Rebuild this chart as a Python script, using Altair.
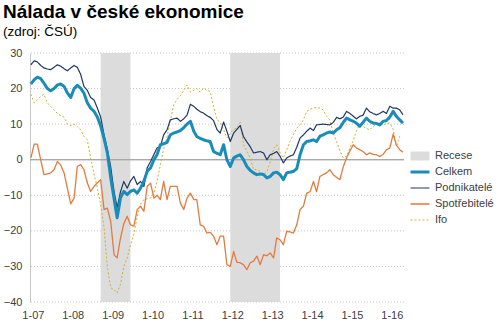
import altair as alt
import pandas as pd

title_text = "Nálada v české ekonomice"
subtitle_text = "(zdroj: ČSÚ)"
series_names = ["Recese", "Celkem", "Podnikatelé", "Spotřebitelé", "Ifo"]
series_colors = ["#dcdcdc", "#1a8cba", "#1f3864", "#e47b3c", "#cdb22c"]
series_widths = [9, 3, 1.2, 1.3, 1]
series_dash = [[1, 0], [1, 0], [1, 0], [1, 0], [2, 2]]
first_month = "2007-01-01"

celkem = [21.3, 22.5, 23.2, 22.8, 21.5, 20.0, 19.4, 20.0, 21.0, 21.3,
          20.6, 18.8, 17.5, 20.0, 20.9, 20.1, 18.7, 16.0, 14.5, 13.6,
          12.0, 9.5, 6.0, 2.0, -5.0, -11.0, -16.3, -10.7, -8.9, -9.8,
          -8.9, -8.5, -9.4, -8.0, -6.0, -3.3, -2.3, 0.0, 1.4, 4.2,
          4.5, 4.9, 7.0, 7.5, 7.8, 8.2, 9.0, 10.0, 10.8, 8.0,
          6.5, 6.0, 5.6, 5.3, 5.1, 2.3, 1.8, 1.4, 4.2, 0.0,
          -1.9, 0.5, 1.0, 1.4, 0.0, -1.9, -3.0, -3.7, -4.2, -4.0,
          -4.2, -5.1, -4.7, -3.7, -3.5, -4.2, -5.6, -3.7, -3.5, -3.3,
          -2.5, 1.4, 4.2, 5.1, 5.3, 5.6, 5.1, 6.6, 7.0, 7.5,
          7.8, 7.5, 8.4, 9.0, 10.5, 11.7, 11.2, 10.8, 10.3, 9.4,
          10.5, 11.7, 10.8, 10.3, 10.2, 9.8, 10.8, 11.0, 12.0, 13.6,
          12.2, 11.2, 10.3]

podnikatele = [26.7, 27.8, 27.5, 26.5, 25.8, 25.5, 25.3, 26.0, 26.7, 26.3,
               25.6, 25.0, 25.8, 26.5, 26.0, 24.0, 20.6, 19.5, 17.5, 16.8,
               14.5, 12.0, 7.0, 3.0, -2.0, -9.0, -13.5, -9.0, -6.1, -8.0,
               -6.0, -4.7, -7.0, -6.1, -7.5, -2.3, -0.5, 1.5, 3.3, 3.7,
               7.0, 8.4, 11.2, 11.5, 11.7, 10.8, 11.5, 12.5, 15.6, 15.0,
               14.2, 13.5, 13.1, 12.4, 11.9, 11.0, 8.5, 7.5, 10.6, 8.0,
               5.1, 7.5, 8.5, 9.6, 6.5, 5.0, 3.7, 1.9, 2.1, 2.3,
               1.9, 0.0, 1.4, 1.8, 2.3, 1.0, -0.9, 0.5, 1.0, 1.4,
               3.5, 6.1, 7.0, 8.0, 8.9, 8.2, 9.8, 9.9, 10.0, 9.9,
               9.8, 10.5, 11.9, 11.5, 12.0, 13.6, 13.0, 12.2, 11.5, 12.2,
               12.5, 14.5, 13.5, 13.0, 12.6, 13.0, 13.6, 13.0, 15.0, 14.5,
               14.5, 14.0, 12.6]

spotrebitele = [0.5, 4.4, 4.4, 0.0, -4.2, -4.0, -3.7, -2.8, -0.5, -1.5,
                -3.7, -8.0, -12.4, -10.8, -1.9, -1.4, -2.8, -6.5, -8.9, -7.5,
                -6.5, -5.6, -14.0, -13.6, -17.3, -26.7, -27.6, -22.0, -18.0, -15.9,
                -18.3, -18.7, -14.0, -13.1, -14.5, -7.5, -6.6, -10.8, -10.0, -11.2,
                -6.1, -11.2, -7.5, -7.5, -7.5, -12.2, -14.0, -10.8, -9.4, -11.2,
                -11.2, -18.3, -18.7, -20.6, -20.4, -21.5, -23.9, -21.5, -21.5, -29.5,
                -30.0, -25.8, -28.8, -29.0, -29.5, -30.9, -29.0, -28.5, -27.1, -29.5,
                -26.7, -27.0, -26.2, -27.6, -22.0, -22.5, -23.9, -20.1, -20.3, -20.6,
                -18.3, -14.0, -13.1, -9.4, -9.0, -6.1, -9.0, -4.7, -4.2, -3.7,
                -2.8, -4.2, -5.0, -5.6, -2.0, 0.5, 2.5, 4.2, 3.3, 2.8,
                2.3, 1.4, 1.9, 1.5, 1.4, 0.9, 1.5, 2.8, 3.3, 7.2,
                4.2, 2.8, 2.1]

ifo = [18.4, 16.0, 16.8, 17.8, 18.4, 16.0, 15.0, 14.0, 13.0, 12.4,
       12.0, 10.0, 9.6, 10.0, 9.4, 8.4, 6.6, 5.6, 0.5, -4.0,
       -8.0, -12.6, -19.0, -30.0, -36.0, -36.5, -37.5, -35.0, -30.0, -27.6,
       -24.0, -21.0, -16.0, -12.5, -11.2, -11.0, -10.8, -9.5, -6.0, -1.5,
       3.0, 6.5, 11.0, 15.4, 17.0, 18.0, 19.5, 21.0, 19.0, 19.5,
       20.0, 19.0, 20.1, 19.5, 19.2, 15.0, 11.2, 10.5, 8.5, 6.1,
       7.5, 8.5, 8.9, 10.5, 4.2, 2.5, 0.5, -2.8, -2.8, -3.3,
       -4.2, -3.5, -0.5, 3.0, 4.2, 2.0, 0.5, 2.8, 5.1, 7.0,
       8.9, 9.8, 11.2, 13.6, 14.2, 14.5, 14.7, 14.5, 14.0, 12.2,
       11.2, 7.5, 5.1, 2.5, 0.5, 1.0, 3.3, 5.5, 8.0, 9.8,
       9.4, 8.8, 8.4, 9.4, 10.0, 10.3, 9.8, 10.2, 10.3, 8.5,
       3.7, 6.6]

recession_start = ["2008-10-01", "2012-01-01"]
recession_end = ["2009-07-01", "2013-04-01"]
tick_years = [2007, 2008, 2009, 2010, 2011, 2012, 2013, 2014, 2015, 2016]
y_ticks = [-40, -30, -20, -10, 0, 10, 20, 30]

FONT = "Liberation Sans"

series_values = {"Celkem": celkem, "Podnikatelé": podnikatele,
                 "Spotřebitelé": spotrebitele, "Ifo": ifo}
frames = []
for name, vals in series_values.items():
    frames.append(pd.DataFrame({
        "date": pd.date_range(first_month, periods=len(vals), freq="MS"),
        "value": vals,
        "series": name,
    }))
lines_df = pd.concat(frames, ignore_index=True)

rec_df = pd.DataFrame({"start": pd.to_datetime(recession_start),
                       "end": pd.to_datetime(recession_end)})
grid_df = pd.DataFrame({"v": y_ticks})

x_scale = alt.Scale(domain=[alt.DateTime(year=2006, month=12, date=24),
                            alt.DateTime(year=2016, month=5, date=10)])
y_scale = alt.Scale(domain=[-40, 30], nice=False, zero=False)

x_axis = alt.Axis(values=[alt.DateTime(year=y, month=1, date=1) for y in tick_years],
                  format="%-m-%y", title=None, grid=False, domain=False, ticks=False,
                  labelFont=FONT, labelFontSize=11, labelColor="#404040",
                  labelPadding=7, labelOffset=2, labelFlush=False)
y_axis = alt.Axis(values=y_ticks, title=None, ticks=False, domain=True,
                  domainColor="#c8c8c8", domainWidth=1, grid=False,
                  labelFont=FONT, labelFontSize=11, labelColor="#404040",
                  labelPadding=8, labelOverlap=False)


def legend():
    return alt.Legend(title=None, orient="none", legendX=376, legendY=95,
                      symbolType="stroke", symbolSize=361, clipHeight=16,
                      labelFont=FONT, labelFontSize=11, labelColor="#404040",
                      rowPadding=0, labelOffset=1, labelLimit=120)


rects = alt.Chart(rec_df).mark_rect(color="#dcdcdc").encode(
    x=alt.X("start:T", scale=x_scale, axis=x_axis),
    x2="end:T",
    y=alt.Y(datum=30, scale=y_scale, axis=y_axis),
    y2=alt.Y2(datum=-40),
)

grid = alt.Chart(grid_df).mark_rule(color="#c4c4c4", strokeWidth=1,
                                    strokeDash=[1, 2]).encode(
    y=alt.Y("v:Q", scale=y_scale, axis=y_axis),
)

zero = alt.Chart(rec_df).mark_rule(color="#a6a6a6", strokeWidth=1).encode(
    y=alt.Y(datum=0, scale=y_scale, axis=y_axis),
)

enc = dict(
    x=alt.X("date:T", scale=x_scale, axis=x_axis),
    y=alt.Y("value:Q", scale=y_scale, axis=y_axis),
    color=alt.Color("series:N",
                    scale=alt.Scale(domain=series_names, range=series_colors),
                    legend=legend()),
    strokeWidth=alt.StrokeWidth("series:N",
                                scale=alt.Scale(type="ordinal", domain=series_names,
                                                range=series_widths),
                                legend=legend()),
    strokeDash=alt.StrokeDash("series:N",
                              scale=alt.Scale(type="ordinal", domain=series_names,
                                              range=series_dash),
                              legend=legend()),
)

layers = [grid, rects, zero]
for name in ["Ifo", "Spotřebitelé", "Podnikatelé", "Celkem"]:
    layers.append(
        alt.Chart(lines_df).transform_filter(alt.datum.series == name)
        .mark_line(strokeJoin="round").encode(**enc)
    )

chart = alt.layer(*layers).properties(
    width=374, height=249,
    autosize=alt.AutoSizeParams(type="none"),
    padding={"left": 30, "top": 53, "right": 96, "bottom": 25},
    title=alt.TitleParams(text=title_text, subtitle=subtitle_text, anchor="start",
                          frame="group", dx=-27, offset=9,
                          font=FONT, fontSize=19, fontWeight="bold", color="#000000",
                          subtitleFont=FONT, subtitleFontSize=13.5, subtitleColor="#000000",
                          subtitlePadding=3),
).configure_view(stroke=None)

chart.save("out.html", embed_options={"renderer": "svg", "actions": False})
